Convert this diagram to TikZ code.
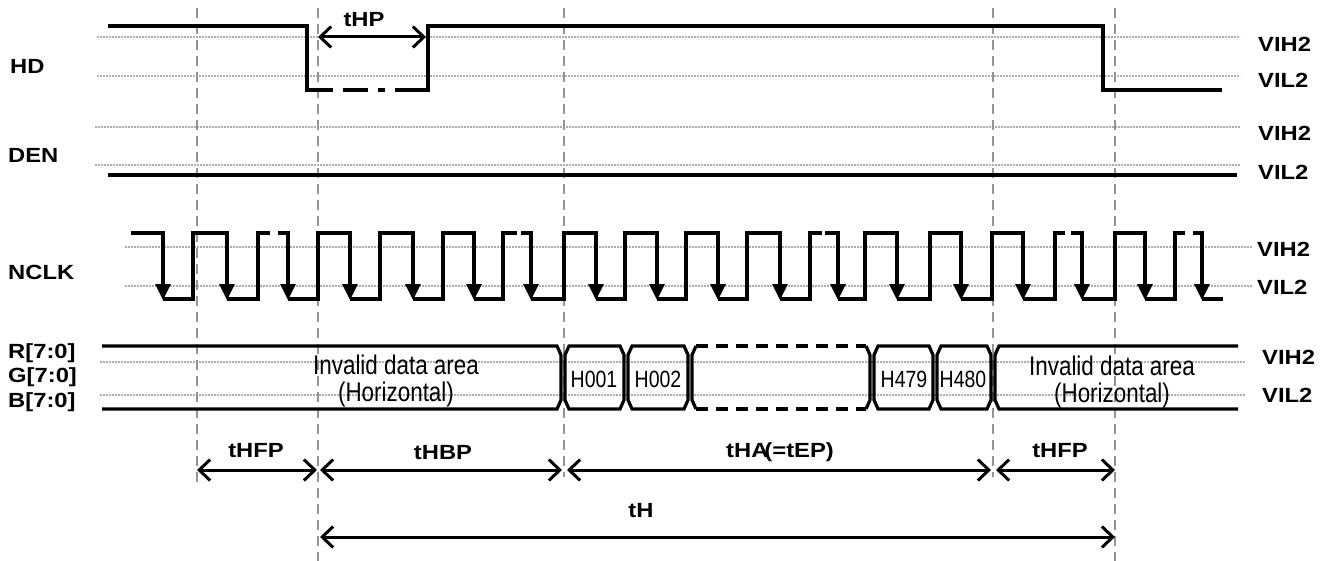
\documentclass[tikz,border=0pt]{standalone}
\usepackage{fontspec}
\setmainfont{Liberation Sans}
\newfontfamily\lblfont[FakeStretch=1.16]{Liberation Sans}
\newfontfamily\narrowfont[FakeStretch=0.83]{Liberation Sans}
\usetikzlibrary{arrows.meta}
\newcommand\busbox[2]{\draw[wave] (#1+4,346) -- (#2-4,346) -- (#2,355) -- (#2,400) -- (#2-4,409) -- (#1+4,409) -- (#1,400) -- (#1,355) -- cycle;}
\begin{document}
\begin{tikzpicture}[x=1pt,y=-1pt,
  guide/.style={draw=black!42, line width=2pt, dash pattern=on 10pt off 6pt},
  level/.style={draw=black!32, line width=1.4pt, dash pattern=on 1.6pt off 1.4pt},
  wave/.style={draw=black, line width=3.2pt, line join=miter},
  clkedge/.style={wave, -{Triangle[width=15pt,length=16pt]}},
  dimarrow/.style={draw=black, line width=3pt, {Straight Barb[length=11pt,width=21pt]}-{Straight Barb[length=11pt,width=21pt]}},
  sig/.style={font={\lblfont\bfseries\fontsize{20.5}{24}\selectfont}, inner sep=0pt},
  lev/.style={sig, anchor=west},
  dat/.style={font={\narrowfont\fontsize{27}{27}\selectfont}, inner sep=0pt, align=center},
  hdat/.style={font={\narrowfont\fontsize{23.5}{26}\selectfont}, inner sep=0pt}]
\useasboundingbox (0,0) rectangle (1324,561);
\fill[white] (0,0) rectangle (1324,561);

% marker coordinates
\coordinate (m1t) at (197,8);  \coordinate (m1b) at (197,484);
\coordinate (m2t) at (318,8);  \coordinate (m2b) at (318,561);
\coordinate (m3t) at (564,8);  \coordinate (m3b) at (564,477);
\coordinate (m4t) at (993,8);  \coordinate (m4b) at (993,477);
\coordinate (m5t) at (1115,8); \coordinate (m5b) at (1115,561);

% level lines
\draw[level] (97,37) -- (1240,37);
\draw[level] (97,76) -- (1240,76);
\draw[level] (95,127) -- (1240,127);
\draw[level] (95,165) -- (1240,165);
\draw[level] (125,247) -- (1253,247);
\draw[level] (125,286) -- (1253,286);
\draw[level] (100,362) -- (1245,362);
\draw[level] (100,395) -- (1245,395);

% guides
\foreach \i in {1,...,5} \draw[guide] (m\i t) -- (m\i b);

% signal names
\node[sig, anchor=west] (hd) at (10,66) {HD};
\node[sig, anchor=west] (den) at (8,155) {DEN};
\node[sig, anchor=west] (nclk) at (8,272) {NCLK};
\node[sig, anchor=west] (r) at (8,353) {R[7:0]};
\node[sig, anchor=west] (g) at (8,377) {G[7:0]};
\node[sig, anchor=west] (b) at (8,402) {B[7:0]};

% level names
\node[lev] (hdh) at (1258,44) {VIH2};
\node[lev] (hdl) at (1258,80) {VIL2};
\node[lev] (denh) at (1258,133) {VIH2};
\node[lev] (denl) at (1258,172) {VIL2};
\node[lev] (clkh) at (1257,249) {VIH2};
\node[lev] (clkl) at (1257,287) {VIL2};
\node[lev] (dath) at (1262,357) {VIH2};
\node[lev] (datl) at (1262,395) {VIL2};

% HD
\draw[wave] (108,26) -- (307,26) -- (307,90) -- (333,90);
\draw[wave] (343,90) -- (368,90);
\draw[wave] (378,90) -- (385,90);
\draw[wave] (395,90) -- (428,90) -- (428,26) -- (1103,26) -- (1103,90) -- (1222,90);
\coordinate (hpA) at (318,37); \coordinate (hpB) at (426,37);
\draw[dimarrow] (hpA) -- (hpB);
\node[sig] (thp) at (364,20) {tHP};

% DEN
\draw[wave] (108,175) -- (1237,175);

% NCLK
\foreach \a/\b in {133/163, 193/227, 258/268, 280/288, 318/350, 380/413, 443/474, 503/515, 523/531, 564/596, 625/657, 686/718, 747/780, 810/820, 827/838, 865/897, 930/961, 992/1023, 1055/1063, 1073/1082, 1115/1145, 1175/1183, 1195/1202}
  \draw[wave, line cap=rect] (\a,233) -- (\b,233);
\foreach \f/\r in {163/193, 227/258, 288/318, 350/380, 413/443, 474/503, 531/564, 596/625, 657/686, 718/747, 780/810, 838/865, 897/930, 961/992, 1023/1055, 1082/1115, 1145/1175} {
  \draw[clkedge] (\f,233) -- (\f,300);
  \draw[wave] (\f,299) -- (\r,299) -- (\r,233);
}
\draw[clkedge] (1202,233) -- (1202,300);
\draw[wave] (1202,299) -- (1223,299);

% data bus
\draw[wave] (102,346) -- (557,346) -- (561,355) -- (561,400) -- (557,409) -- (102,409);
\busbox{565}{624}
\busbox{628}{688}
\draw[wave, dash pattern=on 12pt off 8pt] (696,346) -- (866,346);
\draw[wave, dash pattern=on 12pt off 8pt] (696,409) -- (866,409);
\draw[wave] (696,346) -- (692,355) -- (692,400) -- (696,409);
\draw[wave] (866,346) -- (870,355) -- (870,400) -- (866,409);
\busbox{874}{933}
\busbox{937}{991}
\draw[wave] (1238,346) -- (999,346) -- (995,355) -- (995,400) -- (999,409) -- (1238,409);

\node[dat] (inv1) at (396,381) {Invalid data area\\(Horizontal)};
\node[dat] (inv2) at (1112,382) {Invalid data area\\(Horizontal)};
\node[hdat] (h1) at (594,379) {H001};
\node[hdat] (h2) at (658,379) {H002};
\node[hdat] (h479) at (904,379) {H479};
\node[hdat] (h480) at (963,379) {H480};

% timing arrows
\coordinate (a1) at (197,470); \coordinate (a2) at (317,470);
\coordinate (a3) at (320,470); \coordinate (a4) at (562,470);
\coordinate (a5) at (567,470); \coordinate (a6) at (991,470);
\coordinate (a7) at (996,470); \coordinate (a8) at (1115,470);
\coordinate (t1) at (320,537); \coordinate (t2) at (1115,537);
\draw[dimarrow] (a1) -- (a2);
\draw[dimarrow] (a3) -- (a4);
\draw[dimarrow] (a5) -- (a6);
\draw[dimarrow] (a7) -- (a8);
\draw[dimarrow] (t1) -- (t2);
\node[sig] (lhfp1) at (256,451) {tHFP};
\node[sig] (lhbp) at (443,453) {tHBP};
\node[sig] (lha) at (780,452) {tHA\kern-4pt(=tEP)};
\node[sig] (lhfp2) at (1060,451) {tHFP};
\node[sig] (lh) at (641,511) {tH};
\end{tikzpicture}
\end{document}
